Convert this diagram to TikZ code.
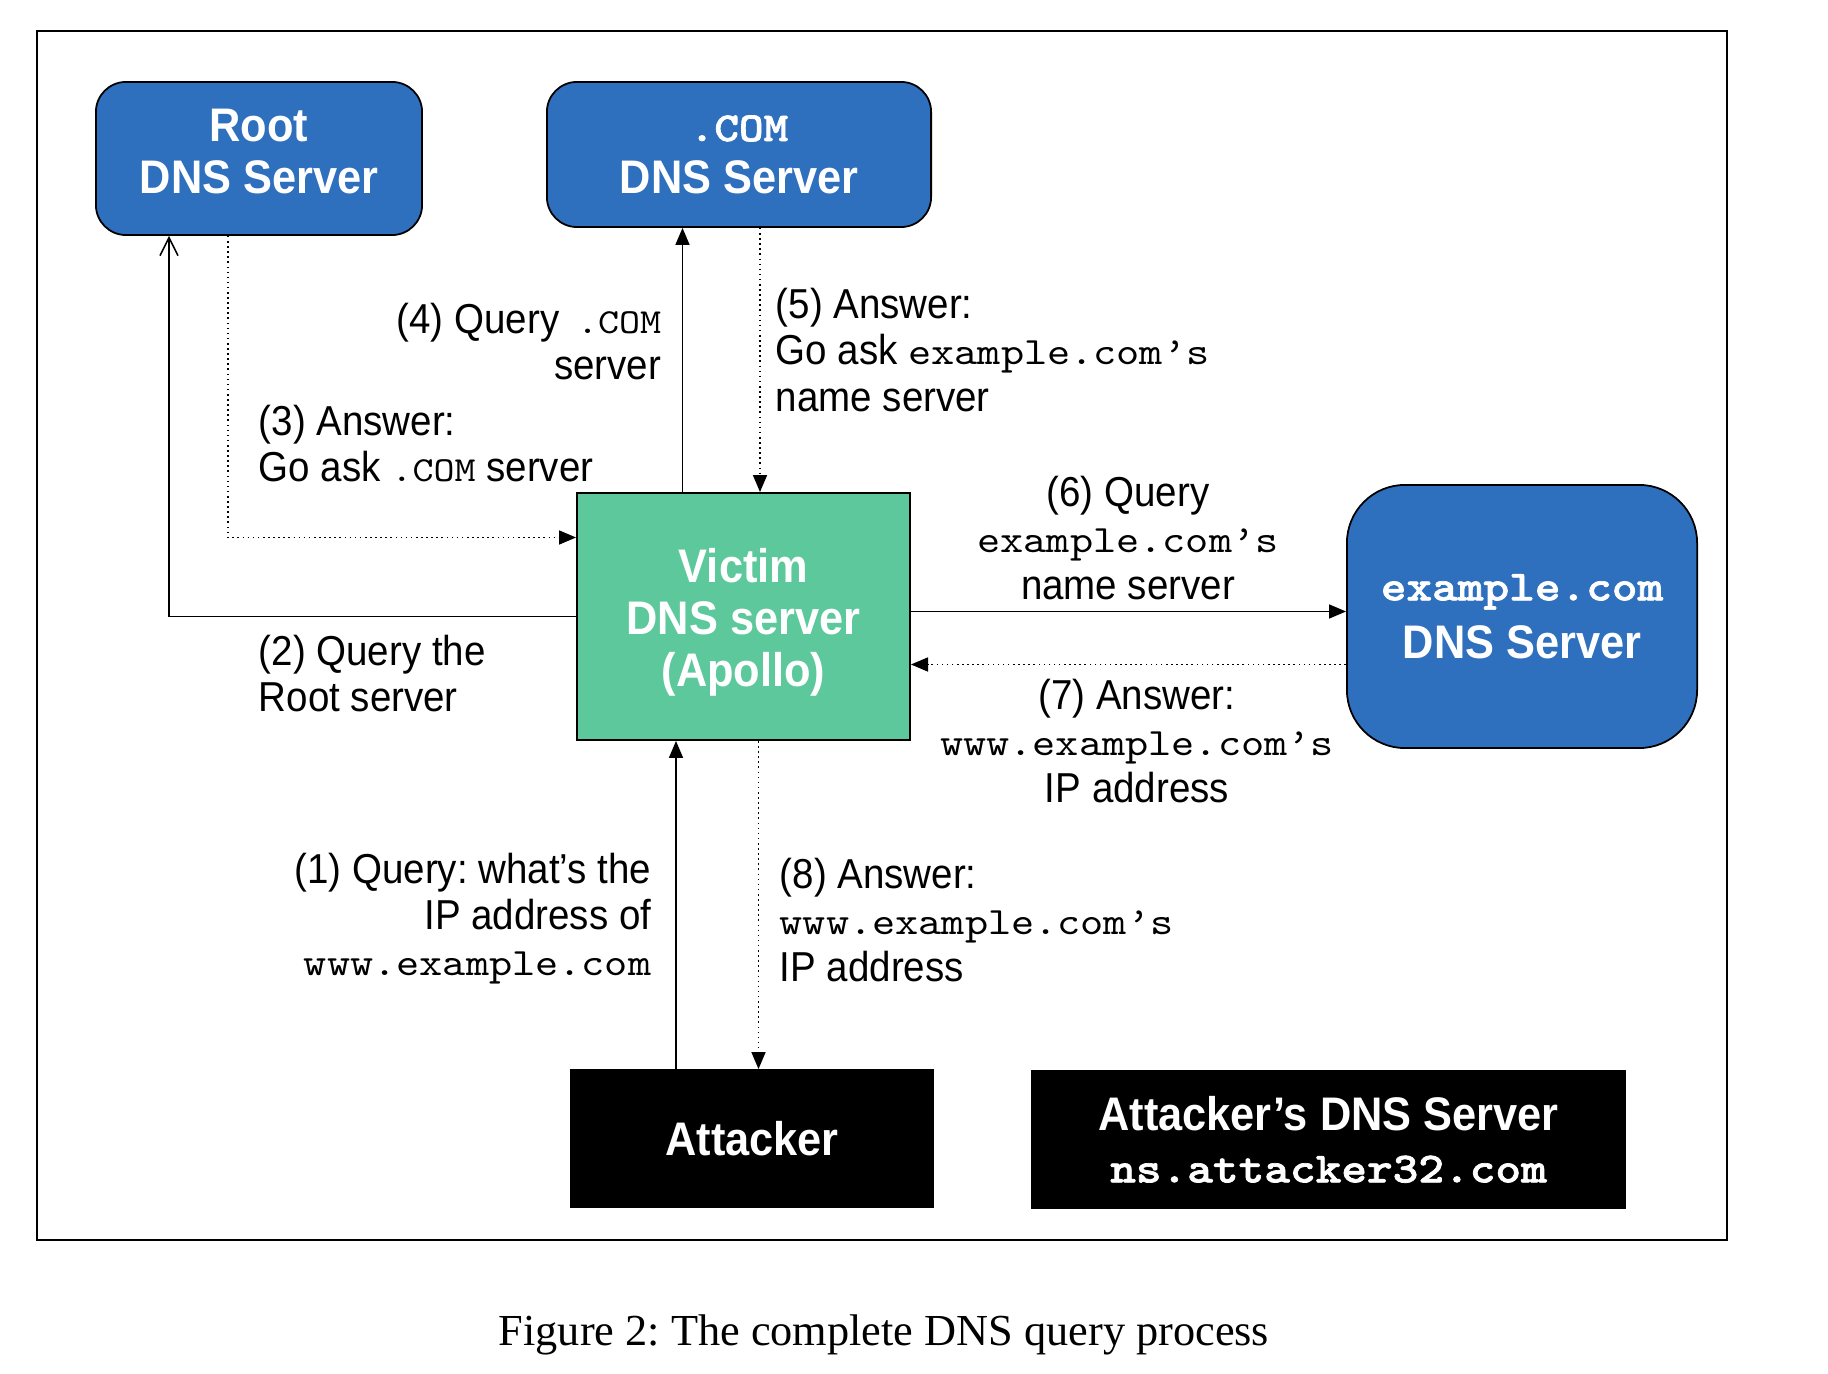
\documentclass[tikz,border=0pt]{standalone}
\usepackage{fontspec}
\setmainfont{Liberation Sans}[FakeStretch=0.92]
\setmonofont{lmmono10-regular.otf}[FakeStretch=1.14]
\newfontfamily\bttfont{lmmonolt10-bold.otf}[FakeStretch=1.14, FakeBold=1.6]
\newfontfamily\capfont{Liberation Serif}
\frenchspacing
\usetikzlibrary{arrows.meta}
\definecolor{srvblue}{RGB}{46,112,189}
\definecolor{victimgreen}{RGB}{92,200,155}
\newcommand{\tx}[1]{{\ttfamily\fontsize{11}{13.1}\selectfont #1}}
\newcommand{\stx}[1]{{\ttfamily\fontsize{10}{13.1}\selectfont #1}}
\newcommand{\btx}[1]{{\bttfont\fontsize{12.2}{14.8}\selectfont #1}}
\tikzset{lbl/.style={inner sep=0pt, font=\fontsize{11.9}{13.1}\selectfont},
  srv/.style={draw, fill=srvblue, text=white, align=center, inner sep=0pt,
    line width=0.5pt, font=\fontsize{13.4}{14.8}\selectfont\bfseries},
  blk/.style={srv, fill=black},
  qry/.style={-{Triangle[length=1.7mm, width=1.4mm]}},
  ans/.style={qry, densely dotted}}

\begin{document}
\begin{tikzpicture}[x=0.01cm, y=-0.01cm, line width=0.45pt]
  \useasboundingbox (0,0) rectangle (1828,1374);
  \draw[line width=0.4pt] (37,31) rectangle (1727,1240);
  % servers
  \node[srv, rounded corners=0.3cm, minimum width=3.26cm, minimum height=1.53cm]
    (root) at (259,158.5) {Root\\DNS Server\rule[-4pt]{0pt}{0pt}};
  \node[srv, rounded corners=0.3cm, minimum width=3.84cm, minimum height=1.45cm]
    (com) at (739,154.5) {{\bttfont\fontsize{11.7}{14.8}\selectfont .COM}\\DNS Server};
  \node[srv, fill=victimgreen, minimum width=3.33cm, minimum height=2.47cm]
    (victim) at (743.5,616.5) {\rule{0pt}{13.2pt}Victim\\DNS server\\(Apollo)};
  \node[srv, rounded corners=0.58cm, minimum width=3.5cm, minimum height=2.63cm]
    (example) at (1522,616.5) {\btx{example.com}\\[1.7pt]DNS Server};
  \node[blk, minimum width=3.62cm, minimum height=1.37cm]
    (attacker) at (752,1138.5) {Attacker};
  \node[blk, minimum width=5.93cm, minimum height=1.37cm]
    (attdns) at (1328.5,1139.5) {Attacker’s DNS Server\\\btx{ns.attacker32.com}};
  % queries and answers
  \draw[-{Straight Barb[length=1.8mm, width=1.8mm]}]
    (victim.west) -| ([shift={(-90,0)}]root.south);
  \draw[ans] ([shift={(-31,0)}]root.south) |- ([shift={(0,-79)}]victim.west);
  \draw[qry] ([shift={(-61,0)}]victim.north) -- ([shift={(-61,0)}]victim.north |- com.south);
  \draw[ans] ([shift={(21,0)}]com.south) -- ([shift={(21,0)}]com.south |- victim.north);
  \draw[qry] ([shift={(0,-5)}]victim.east) -- ([shift={(0,-5)}]victim.east -| example.west);
  \draw[ans] ([shift={(0,48)}]example.west) -- ([shift={(0,48)}]example.west -| victim.east);
  \draw[qry] ([shift={(-76,0)}]attacker.north) -- ([shift={(-76,0)}]attacker.north |- victim.south);
  \draw[ans] ([shift={(15,0)}]victim.south) -- ([shift={(15,0)}]victim.south |- attacker.north);
  % labels
  \node[lbl, align=right, anchor=east] (l4) at (662,341.5) {(4) Query \,\stx{.COM}\\server};
  \node[lbl, align=left, anchor=west] (l3) at (258,444) {(3) Answer:\\Go ask \stx{.COM} server};
  \node[lbl, align=left, anchor=west] (l5) at (775,350) {(5) Answer:\\Go ask \tx{example.com’s}\\name server};
  \node[lbl, align=center] (l6) at (1128,538) {(6) Query\\\tx{example.com’s}\\name server};
  \node[lbl, align=left, anchor=west] (l2) at (258,673.5) {(2) Query the\\Root server};
  \node[lbl, align=center] (l7) at (1137,741) {(7) Answer:\\\tx{www.example.com’s}\\IP address};
  \node[lbl, align=right, anchor=east] (l1) at (652,919) {(1) Query: what’s the\\IP address of\\\tx{www.example.com}};
  \node[lbl, align=left, anchor=west] (l8) at (779,920) {(8) Answer:\\\tx{www.example.com’s}\\IP address};
  \node[inner sep=0pt, font=\capfont\fontsize{12.6}{15}\selectfont] (cap) at (884,1335)
    {Figure 2: The complete DNS query process};
\end{tikzpicture}
\end{document}
